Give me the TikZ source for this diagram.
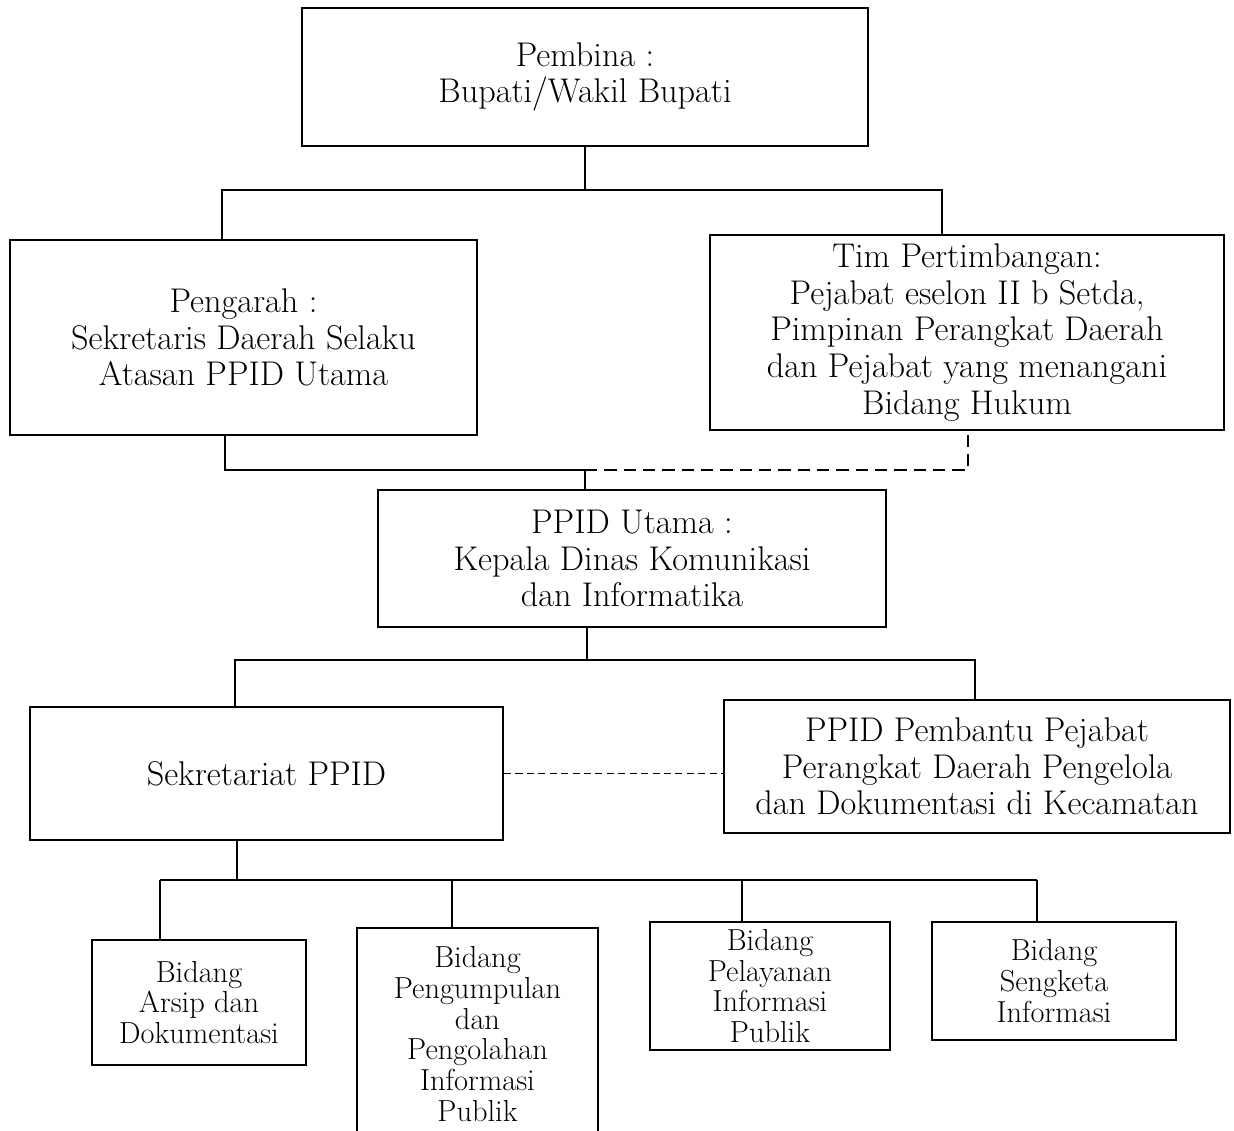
\documentclass[tikz,border=0pt]{standalone}
\usepackage{tikz}
\usetikzlibrary{calc}

\begin{document}
\begin{tikzpicture}[line width=1.2pt,
    bigbox/.style={draw, rectangle, align=center, inner sep=0,
      font=\fontsize{19.5}{20.8}\selectfont},
    smallbox/.style={draw, rectangle, align=center, inner sep=0,
      font=\fontsize{17.3}{17.5}\selectfont},
    longdash/.style={dash pattern=on 7pt off 4pt},
    shortdash/.style={line width=0.9pt, dash pattern=on 4pt off 2.5pt}]
      \path[use as bounding box, clip] (0,0) rectangle (24.68,-22.6);

      \node [bigbox, minimum width=11.32cm, minimum height=2.76cm] (pembina) at (11.70,-1.54)
        {Pembina :\\ Bupati/Wakil Bupati};
      \node [bigbox, minimum width=9.34cm, minimum height=3.90cm] (pengarah) at (4.87,-6.75)
        {Pengarah :\\ Sekretaris Daerah Selaku\\ Atasan PPID Utama};
      \node [bigbox, minimum width=10.28cm, minimum height=3.90cm] (tim) at (19.34,-6.65)
        {Tim Pertimbangan:\\ Pejabat eselon II b Setda,\\ Pimpinan Perangkat Daerah\\
         dan Pejabat yang menangani\\ Bidang Hukum};
      \node [bigbox, minimum width=10.16cm, minimum height=2.74cm] (utama) at (12.64,-11.17)
        {PPID Utama :\\ Kepala Dinas Komunikasi\\ dan Informatika};
      \node [bigbox, minimum width=9.46cm, minimum height=2.66cm] (sekretariat) at (5.33,-15.47)
        {Sekretariat PPID};
      \node [bigbox, minimum width=10.12cm, minimum height=2.66cm] (pembantu) at (19.54,-15.33)
        {PPID Pembantu Pejabat\\ Perangkat Daerah Pengelola\\ dan Dokumentasi di Kecamatan};

      \node [smallbox, minimum width=4.28cm, minimum height=2.50cm] (arsip) at (3.98,-20.05)
        {Bidang\\ Arsip dan\\ Dokumentasi};
      \node [smallbox, minimum width=4.82cm, minimum height=4.24cm] (pengumpulan) at (9.55,-20.68)
        {Bidang\\ Pengumpulan\\ dan\\ Pengolahan\\ Informasi\\ Publik};
      \node [smallbox, minimum width=4.80cm, minimum height=2.56cm] (pelayanan) at (15.40,-19.72)
        {Bidang\\ Pelayanan\\ Informasi\\ Publik};
      \node [smallbox, minimum width=4.88cm, minimum height=2.36cm] (sengketa) at (21.08,-19.62)
        {Bidang\\ Sengketa\\ Informasi};

      % Pembina to Pengarah and Tim
      \coordinate (p1) at (11.70,-3.80);
      \coordinate (p2) at (4.44,-3.80);
      \coordinate (p3) at (18.84,-3.80);
      \draw (pembina.south) -- (p1);
      \draw (p2 |- pengarah.north) -- (p2) -- (p3) -- (p3 |- tim.north);

      % Pengarah and Tim to PPID Utama
      \coordinate (q1) at (4.50,-9.40);
      \coordinate (q2) at (11.70,-9.40);
      \coordinate (q3) at (19.36,-9.40);
      \draw (q1 |- pengarah.south) -- (q1) -- (q2) -- (q2 |- utama.north);
      \draw[longdash] (q2) -- (q3) -- (q3 |- tim.south);

      % PPID Utama to Sekretariat and Pembantu
      \coordinate (r1) at (11.74,-13.20);
      \coordinate (r2) at (4.70,-13.20);
      \coordinate (r3) at (19.50,-13.20);
      \draw (utama.south -| r1) -- (r1);
      \draw (r2 |- sekretariat.north) -- (r2) -- (r3) -- (r3 |- pembantu.north);
      \draw[shortdash] (sekretariat.east) -- (sekretariat.east -| pembantu.west);

      % Sekretariat to Bidang
      \coordinate (s0) at (4.74,-17.60);
      \coordinate (s1) at (3.20,-17.60);
      \coordinate (s2) at (9.04,-17.60);
      \coordinate (s3) at (14.84,-17.60);
      \coordinate (s4) at (20.74,-17.60);
      \draw (sekretariat.south -| s0) -- (s0);
      \draw (s1) -- (s4);
      \draw (s1) -- (s1 |- arsip.north);
      \draw (s2) -- (s2 |- pengumpulan.north);
      \draw (s3) -- (s3 |- pelayanan.north);
      \draw (s4) -- (s4 |- sengketa.north);
    \end{tikzpicture}
\end{document}
